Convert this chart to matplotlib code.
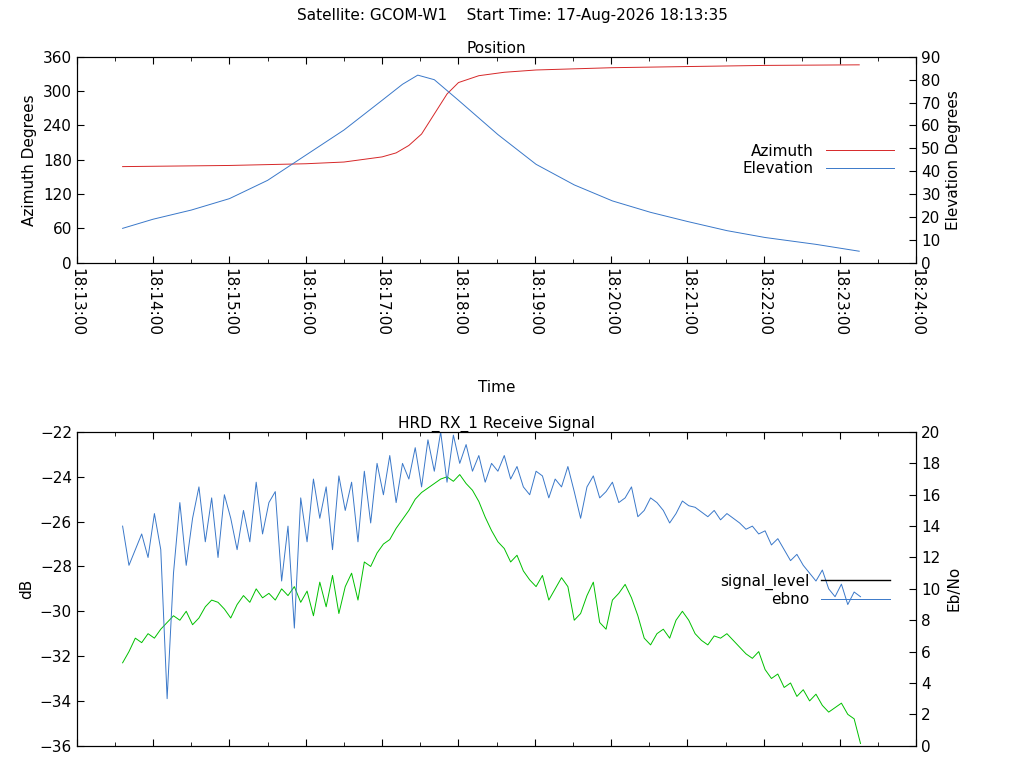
import matplotlib
matplotlib.use("Agg")
import matplotlib.pyplot as plt
from matplotlib.lines import Line2D
import numpy as np

# Position data (seconds after 18:13:35)
pos_t = [0, 84, 144, 174, 204, 215, 225, 235, 245, 255, 264, 280, 300, 325, 385, 444, 505, 579]
azimuth = [168, 170, 173, 176, 185, 192, 205, 225, 260, 295, 315, 327, 333, 337, 341, 343, 345, 346]
pos_t_el = [0, 24, 54, 84, 114, 144, 174, 204, 220, 232, 245, 264, 295, 325, 355, 385, 415, 444, 475, 505, 545, 579]
elevation = [15, 19, 23, 28, 36, 47, 58, 71, 78, 82, 80, 71, 56, 43, 34, 27, 22, 18, 14, 11, 8, 5]

sig_step = 5
signal_level = [-32.3,-31.8,-31.2,-31.4,-31.0,-31.2,-30.8,-30.5,-30.2,-30.4,-30.0,-30.6,
 -30.3,-29.8,-29.5,-29.6,-29.9,-30.3,-29.7,-29.3,-29.6,-29.0,-29.4,-29.2,
 -29.5,-29.0,-29.3,-28.9,-29.6,-29.1,-30.2,-28.7,-29.8,-28.4,-30.1,-28.9,
 -28.3,-29.5,-27.8,-28.0,-27.4,-27.0,-26.8,-26.3,-25.9,-25.5,-25.0,-24.7,
 -24.5,-24.3,-24.1,-24.0,-24.2,-23.9,-24.3,-24.6,-25.1,-25.8,-26.4,-26.9,
 -27.2,-27.8,-27.5,-28.2,-28.6,-28.9,-28.4,-29.5,-29.0,-28.5,-28.9,-30.4,
 -30.1,-29.3,-28.7,-30.5,-30.8,-29.5,-29.2,-28.8,-29.4,-30.2,-31.2,-31.5,
 -31.0,-30.8,-31.2,-30.4,-30.0,-30.4,-31.0,-31.3,-31.5,-31.1,-31.2,-31.0,
 -31.3,-31.6,-31.9,-32.1,-31.8,-32.6,-33.0,-32.8,-33.4,-33.2,-33.8,-33.5,
 -34.0,-33.7,-34.2,-34.5,-34.3,-34.1,-34.6,-34.8,-35.9]
ebno = [14.0,11.5,12.5,13.5,12.0,14.8,12.5,3.0,11.0,15.5,11.5,14.5,
 16.5,13.0,15.8,12.0,16.0,14.5,12.5,15.0,13.0,16.8,13.5,15.5,
 16.2,10.5,14.0,7.5,15.8,13.0,17.0,14.5,16.5,12.5,17.2,15.0,
 16.8,13.0,17.5,14.2,18.0,16.0,18.5,15.5,18.0,17.0,19.0,16.5,
 19.5,17.5,20.0,16.8,19.8,18.0,19.2,17.5,18.5,16.8,18.0,17.5,
 18.5,17.0,17.8,16.5,16.0,17.5,17.2,15.8,17.0,16.5,17.8,16.2,
 14.5,16.5,17.2,15.8,16.2,16.8,15.5,15.8,16.5,14.6,15.0,15.8,
 15.5,15.0,14.2,14.8,15.6,15.3,15.2,14.9,14.6,15.0,14.4,14.8,
 14.5,14.2,13.8,14.0,13.5,13.7,12.8,13.2,12.5,11.8,12.2,11.5,
 11.0,10.5,11.2,10.0,9.5,10.3,9.0,9.8,9.5]

tick_labels = ["18:%02d:00" % m for m in range(13, 25)]
start_min = 36 / 60.0  # 18:13:36 in minutes after 18:13

plt.rcParams['font.family'] = ['DejaVu Sans']
plt.rcParams['font.size'] = 10
fig = plt.figure(figsize=(10.24, 7.68), dpi=100)

def style(ax):
    ax.tick_params(direction='in', which='both', top=True, length=5)
    ax.tick_params(which='minor', length=3)
    ax.set_xlim(0, 11)
    ax.set_xticks(range(12))
    ax.set_xticks(np.arange(0.5, 11, 1), minor=True)

# Upper
ax1 = fig.add_axes([0.075, 0.658, 0.82, 0.268])
x_az = [start_min + t / 60 for t in pos_t]
x_el = [start_min + t / 60 for t in pos_t_el]
l1, = ax1.plot(x_az, azimuth, color='#d62728', lw=0.7)
style(ax1)
ax1.set_ylim(0, 360)
ax1.set_yticks(range(0, 361, 60))
ax1.set_xticklabels(tick_labels, rotation=270, fontsize=11)
ax1.tick_params(axis='y', labelsize=11)
ax1.set_ylabel('Azimuth Degrees', fontsize=11)
ax1.set_xlabel('Time', labelpad=32, fontsize=11)
ax1.set_title('Position', fontsize=11, pad=3)
ax1b = ax1.twinx()
l2, = ax1b.plot(x_el, elevation, color='#3a78c9', lw=0.7)
ax1b.set_ylim(0, 90)
ax1b.set_yticks(range(0, 91, 10))
ax1b.tick_params(direction='in', length=5, labelsize=11)
ax1b.set_ylabel('Elevation Degrees', fontsize=11)
ax1b.legend([l1, l2], ['Azimuth', 'Elevation'], loc='center right', markerfirst=False,
            frameon=False, bbox_to_anchor=(0.99, 0.5), handlelength=4.5, fontsize=11,
            labelspacing=0.15)

# Lower
ax2 = fig.add_axes([0.075, 0.029, 0.82, 0.4085])
xs = [start_min + i * sig_step / 60 for i in range(len(signal_level))]
ax2.plot(xs, signal_level, color='#00c000', lw=0.7)
style(ax2)
ax2.set_xticklabels([])
ax2.set_ylim(-36, -22)
ax2.set_yticks(range(-36, -21, 2))
ax2.tick_params(axis='y', labelsize=11)
ax2.set_ylabel('dB', fontsize=11)
ax2.set_title('HRD_RX_1 Receive Signal', fontsize=11, pad=3)
ax2b = ax2.twinx()
xe = [start_min + i * sig_step / 60 for i in range(len(ebno))]
l4, = ax2b.plot(xe, ebno, color='#3a78c9', lw=0.7)
ax2b.set_ylim(0, 20)
ax2b.set_yticks(range(0, 21, 2))
ax2b.tick_params(direction='in', length=5, labelsize=11)
ax2b.set_ylabel('Eb/No', fontsize=11)
h3 = Line2D([], [], color='black', lw=1)
ax2b.legend([h3, l4], ['signal_level', 'ebno'], loc='center right', markerfirst=False,
            frameon=False, bbox_to_anchor=(0.985, 0.495), handlelength=4.5, fontsize=11,
            labelspacing=0.15)

fig.suptitle('Satellite: GCOM-W1    Start Time: 17-Aug-2026 18:13:35', y=0.99, fontsize=11)
fig.savefig('out.png', dpi=100)
